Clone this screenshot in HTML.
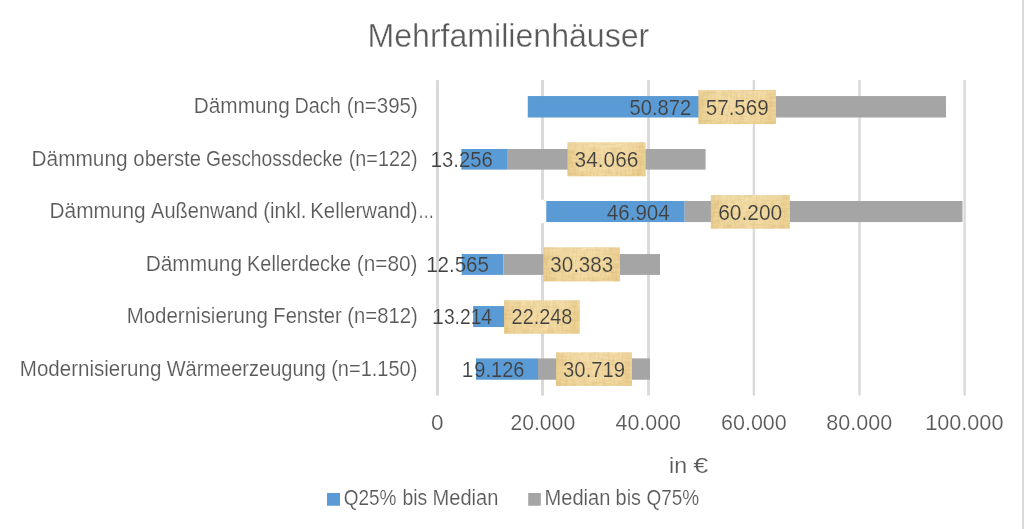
<!DOCTYPE html>
<html lang="de"><head><meta charset="utf-8"><title>Mehrfamilienhäuser</title>
<style>
html,body{margin:0;padding:0;background:#fff;}
body{width:1024px;height:529px;overflow:hidden;}
svg{display:block;font-family:"Liberation Sans", sans-serif;}
text{white-space:pre;}
</style></head><body>
<svg width="1024" height="529" viewBox="0 0 1024 529">
<defs>
<linearGradient id="papg" x1="0" y1="0" x2="1" y2="0">
<stop offset="0" stop-color="#EBCF91"/><stop offset="0.05" stop-color="#EED498"/><stop offset="0.16" stop-color="#F3DBA3"/>
<stop offset="0.5" stop-color="#F5DEA8"/><stop offset="0.86" stop-color="#F3DAA1"/><stop offset="0.93" stop-color="#EED396"/><stop offset="1" stop-color="#F1D79C"/>
</linearGradient>
<linearGradient id="papv" x1="0" y1="0" x2="0" y2="1">
<stop offset="0" stop-color="#fff" stop-opacity="0.10"/><stop offset="0.3" stop-color="#fff" stop-opacity="0"/>
<stop offset="0.8" stop-color="#C9A050" stop-opacity="0"/><stop offset="1" stop-color="#C9A050" stop-opacity="0.10"/>
</linearGradient>
<filter id="nz" x="0" y="0" width="1" height="1" color-interpolation-filters="sRGB">
<feTurbulence type="fractalNoise" baseFrequency="0.5 0.09" numOctaves="2" seed="5" result="a"/>
<feColorMatrix in="a" type="matrix" values="0 0 0 0 0.70  0 0 0 0 0.52  0 0 0 0 0.20  0.34 0 0 0 -0.135" result="a2"/>
<feTurbulence type="fractalNoise" baseFrequency="0.09 0.5" numOctaves="2" seed="11" result="b"/>
<feColorMatrix in="b" type="matrix" values="0 0 0 0 0.70  0 0 0 0 0.52  0 0 0 0 0.20  0.34 0 0 0 -0.135" result="b2"/>
<feMerge result="m"><feMergeNode in="a2"/><feMergeNode in="b2"/></feMerge>
<feComposite in="m" in2="SourceGraphic" operator="in"/>
</filter>
<g id="shapes">
<rect width="1024" height="529" fill="#fff"/>
<rect x="436.00" y="80.1" width="3.0" height="315.5" fill="#D9D9D9"/>
<rect x="541.00" y="80.1" width="3.0" height="315.5" fill="#D9D9D9"/>
<rect x="647.10" y="80.1" width="2.8" height="315.5" fill="#D9D9D9"/>
<rect x="752.70" y="80.1" width="2.4" height="315.5" fill="#D9D9D9"/>
<rect x="858.30" y="80.1" width="2.4" height="315.5" fill="#D9D9D9"/>
<rect x="963.40" y="80.1" width="2.4" height="315.5" fill="#D9D9D9"/>
<rect x="539" y="199.75" width="7.25" height="23.4" fill="#fff"/>
<rect x="527.75" y="96.05" width="177.25" height="21.45" fill="#5B9BD5"/>
<rect x="705.0" y="96.05" width="241.00" height="21.45" fill="#A5A5A5"/>
<rect x="461.3" y="149.0" width="45.70" height="20.60" fill="#5B9BD5"/>
<rect x="507.0" y="149.0" width="198.60" height="20.60" fill="#A5A5A5"/>
<rect x="546.25" y="201.0" width="138.40" height="21.05" fill="#5B9BD5"/>
<rect x="684.65" y="201.0" width="277.85" height="21.05" fill="#A5A5A5"/>
<rect x="461.7" y="254.05" width="41.60" height="20.85" fill="#5B9BD5"/>
<rect x="503.3" y="254.05" width="156.70" height="20.85" fill="#A5A5A5"/>
<rect x="473.1" y="306.05" width="31.40" height="21.00" fill="#5B9BD5"/>
<rect x="504.5" y="306.05" width="55.50" height="21.00" fill="#A5A5A5"/>
<rect x="476.0" y="358.4" width="62.00" height="21.35" fill="#5B9BD5"/>
<rect x="538.0" y="358.4" width="112.00" height="21.35" fill="#A5A5A5"/>
<rect x="698.4" y="90.0" width="77.55" height="34.05" fill="url(#papg)"/>
<rect x="698.4" y="90.0" width="77.55" height="34.05" fill="url(#papv)"/>
<rect x="698.4" y="90.0" width="77.55" height="34.05" fill="#000" filter="url(#nz)"/>
<rect x="567.5" y="142.25" width="78.15" height="34.05" fill="url(#papg)"/>
<rect x="567.5" y="142.25" width="78.15" height="34.05" fill="url(#papv)"/>
<rect x="567.5" y="142.25" width="78.15" height="34.05" fill="#000" filter="url(#nz)"/>
<rect x="710.85" y="195.05" width="79.05" height="33.60" fill="url(#papg)"/>
<rect x="710.85" y="195.05" width="79.05" height="33.60" fill="url(#papv)"/>
<rect x="710.85" y="195.05" width="79.05" height="33.60" fill="#000" filter="url(#nz)"/>
<rect x="543.3" y="247.25" width="76.70" height="34.15" fill="url(#papg)"/>
<rect x="543.3" y="247.25" width="76.70" height="34.15" fill="url(#papv)"/>
<rect x="543.3" y="247.25" width="76.70" height="34.15" fill="#000" filter="url(#nz)"/>
<rect x="504.05" y="300.25" width="75.70" height="33.50" fill="url(#papg)"/>
<rect x="504.05" y="300.25" width="75.70" height="33.50" fill="url(#papv)"/>
<rect x="504.05" y="300.25" width="75.70" height="33.50" fill="#000" filter="url(#nz)"/>
<rect x="556.05" y="352.3" width="75.95" height="33.60" fill="url(#papg)"/>
<rect x="556.05" y="352.3" width="75.95" height="33.60" fill="url(#papv)"/>
<rect x="556.05" y="352.3" width="75.95" height="33.60" fill="#000" filter="url(#nz)"/>
<rect x="327" y="493" width="13" height="12.75" fill="#5B9BD5"/>
<rect x="528.2" y="493" width="12.6" height="12.75" fill="#A5A5A5"/>
<rect x="1022" y="0" width="2" height="529" fill="#D9D9D9"/>
</g>
<pattern id="bg" patternUnits="userSpaceOnUse" width="1024" height="529"><use href="#shapes"/></pattern>
</defs>
<use href="#shapes"/>
<text x="367.50" y="47" font-size="32.6" fill="#595959" stroke="url(#bg)" stroke-width="0.4" textLength="281.77" lengthAdjust="spacingAndGlyphs">Mehrfamilienhäuser</text>
<text y="113" font-size="21.5" fill="#595959" stroke="url(#bg)" stroke-width="0.2"><tspan x="193.75" textLength="95.98" lengthAdjust="spacingAndGlyphs">Dämmung</tspan> <tspan x="294.47" textLength="46.36" lengthAdjust="spacingAndGlyphs">Dach</tspan> <tspan x="346.67" textLength="71.12" lengthAdjust="spacingAndGlyphs">(n=395)</tspan></text>
<text y="166" font-size="21.5" fill="#595959" stroke="url(#bg)" stroke-width="0.2"><tspan x="31.56" textLength="96.04" lengthAdjust="spacingAndGlyphs">Dämmung</tspan> <tspan x="133.37" textLength="67.64" lengthAdjust="spacingAndGlyphs">oberste</tspan> <tspan x="206.00" textLength="136.79" lengthAdjust="spacingAndGlyphs">Geschossdecke</tspan> <tspan x="348.71" textLength="68.83" lengthAdjust="spacingAndGlyphs">(n=122)</tspan></text>
<text y="218" font-size="21.5" fill="#595959" stroke="url(#bg)" stroke-width="0.2"><tspan x="49.56" textLength="96.04" lengthAdjust="spacingAndGlyphs">Dämmung</tspan> <tspan x="151.10" textLength="106.77" lengthAdjust="spacingAndGlyphs">Außenwand</tspan> <tspan x="263.18" textLength="43.32" lengthAdjust="spacingAndGlyphs">(inkl.</tspan> <tspan x="310.32" textLength="107.27" lengthAdjust="spacingAndGlyphs">Kellerwand)</tspan><tspan x="418.05" textLength="16.31" lengthAdjust="spacingAndGlyphs">…</tspan></text>
<text y="271" font-size="21.5" fill="#595959" stroke="url(#bg)" stroke-width="0.2"><tspan x="145.68" textLength="96.36" lengthAdjust="spacingAndGlyphs">Dämmung</tspan> <tspan x="247.07" textLength="103.94" lengthAdjust="spacingAndGlyphs">Kellerdecke</tspan> <tspan x="356.77" textLength="60.75" lengthAdjust="spacingAndGlyphs">(n=80)</tspan></text>
<text y="323" font-size="21.5" fill="#595959" stroke="url(#bg)" stroke-width="0.2"><tspan x="126.66" textLength="141.14" lengthAdjust="spacingAndGlyphs">Modernisierung</tspan> <tspan x="273.33" textLength="68.38" lengthAdjust="spacingAndGlyphs">Fenster</tspan> <tspan x="347.30" textLength="70.37" lengthAdjust="spacingAndGlyphs">(n=812)</tspan></text>
<text y="376" font-size="21.5" fill="#595959" stroke="url(#bg)" stroke-width="0.2"><tspan x="19.85" textLength="141.49" lengthAdjust="spacingAndGlyphs">Modernisierung</tspan> <tspan x="166.68" textLength="159.16" lengthAdjust="spacingAndGlyphs">Wärmeerzeugung</tspan> <tspan x="331.20" textLength="86.16" lengthAdjust="spacingAndGlyphs">(n=1.150)</tspan></text>
<text y="115" font-size="21.5" fill="#404040" stroke="url(#bg)" stroke-width="0.2"><tspan x="629.56" textLength="61.55" lengthAdjust="spacingAndGlyphs">50.872</tspan></text>
<text y="115" font-size="21.5" fill="#404040" stroke="url(#bg)" stroke-width="0.2"><tspan x="705.69" textLength="63.10" lengthAdjust="spacingAndGlyphs">57.569</tspan></text>
<text y="167" font-size="21.5" fill="#404040" stroke="url(#bg)" stroke-width="0.2"><tspan x="430.55" textLength="11.63" lengthAdjust="spacingAndGlyphs">1</tspan><tspan x="442.03" textLength="50.73" lengthAdjust="spacingAndGlyphs">3.256</tspan></text>
<text y="167" font-size="21.5" fill="#404040" stroke="url(#bg)" stroke-width="0.2"><tspan x="574.62" textLength="63.75" lengthAdjust="spacingAndGlyphs">34.066</tspan></text>
<text y="220" font-size="21.5" fill="#404040" stroke="url(#bg)" stroke-width="0.2"><tspan x="606.87" textLength="62.84" lengthAdjust="spacingAndGlyphs">46.904</tspan></text>
<text y="220" font-size="21.5" fill="#404040" stroke="url(#bg)" stroke-width="0.2"><tspan x="718.17" textLength="64.09" lengthAdjust="spacingAndGlyphs">60.200</tspan></text>
<text y="272" font-size="21.5" fill="#404040" stroke="url(#bg)" stroke-width="0.2"><tspan x="426.21" textLength="11.75" lengthAdjust="spacingAndGlyphs">1</tspan><tspan x="437.49" textLength="51.55" lengthAdjust="spacingAndGlyphs">2.565</tspan></text>
<text y="272" font-size="21.5" fill="#404040" stroke="url(#bg)" stroke-width="0.2"><tspan x="550.26" textLength="62.94" lengthAdjust="spacingAndGlyphs">30.383</tspan></text>
<text y="324" font-size="21.5" fill="#404040" stroke="url(#bg)" stroke-width="0.2"><tspan x="431.92" textLength="11.91" lengthAdjust="spacingAndGlyphs">1</tspan><tspan x="443.88" textLength="48.19" lengthAdjust="spacingAndGlyphs">3.214</tspan></text>
<text y="324" font-size="21.5" fill="#404040" stroke="url(#bg)" stroke-width="0.2"><tspan x="511.61" textLength="60.76" lengthAdjust="spacingAndGlyphs">22.248</tspan></text>
<text y="377" font-size="21.5" fill="#404040" stroke="url(#bg)" stroke-width="0.2"><tspan x="461.68" textLength="11.60" lengthAdjust="spacingAndGlyphs">1</tspan><tspan x="474.36" textLength="50.00" lengthAdjust="spacingAndGlyphs">9.126</tspan></text>
<text y="377" font-size="21.5" fill="#404040" stroke="url(#bg)" stroke-width="0.2"><tspan x="563.10" textLength="61.99" lengthAdjust="spacingAndGlyphs">30.719</tspan></text>
<text y="430" font-size="21.5" fill="#595959" stroke="url(#bg)" stroke-width="0.2"><tspan x="431.00" textLength="12.53" lengthAdjust="spacingAndGlyphs">0</tspan></text>
<text y="430" font-size="21.5" fill="#595959" stroke="url(#bg)" stroke-width="0.2"><tspan x="510.48" textLength="64.67" lengthAdjust="spacingAndGlyphs">20.000</tspan></text>
<text y="430" font-size="21.5" fill="#595959" stroke="url(#bg)" stroke-width="0.2"><tspan x="615.47" textLength="65.52" lengthAdjust="spacingAndGlyphs">40.000</tspan></text>
<text y="430" font-size="21.5" fill="#595959" stroke="url(#bg)" stroke-width="0.2"><tspan x="721.07" textLength="65.70" lengthAdjust="spacingAndGlyphs">60.000</tspan></text>
<text y="430" font-size="21.5" fill="#595959" stroke="url(#bg)" stroke-width="0.2"><tspan x="826.35" textLength="65.78" lengthAdjust="spacingAndGlyphs">80.000</tspan></text>
<text y="430" font-size="21.5" fill="#595959" stroke="url(#bg)" stroke-width="0.2"><tspan x="925.01" textLength="12.68" lengthAdjust="spacingAndGlyphs">1</tspan><tspan x="937.31" textLength="66.13" lengthAdjust="spacingAndGlyphs">00.000</tspan></text>
<text y="473" font-size="21.5" fill="#595959" stroke="url(#bg)" stroke-width="0.2"><tspan x="669.12" textLength="17.96" lengthAdjust="spacingAndGlyphs">in</tspan> <tspan x="693.27" textLength="15.05" lengthAdjust="spacingAndGlyphs">€</tspan></text>
<text y="505" font-size="21.5" fill="#595959" stroke="url(#bg)" stroke-width="0.2"><tspan x="343.68" textLength="52.74" lengthAdjust="spacingAndGlyphs">Q25%</tspan> <tspan x="402.52" textLength="24.81" lengthAdjust="spacingAndGlyphs">bis</tspan> <tspan x="432.53" textLength="65.84" lengthAdjust="spacingAndGlyphs">Median</tspan></text>
<text y="505" font-size="21.5" fill="#595959" stroke="url(#bg)" stroke-width="0.2"><tspan x="544.53" textLength="65.84" lengthAdjust="spacingAndGlyphs">Median</tspan> <tspan x="615.60" textLength="25.42" lengthAdjust="spacingAndGlyphs">bis</tspan> <tspan x="646.55" textLength="52.69" lengthAdjust="spacingAndGlyphs">Q75%</tspan></text>
</svg>
</body></html>
